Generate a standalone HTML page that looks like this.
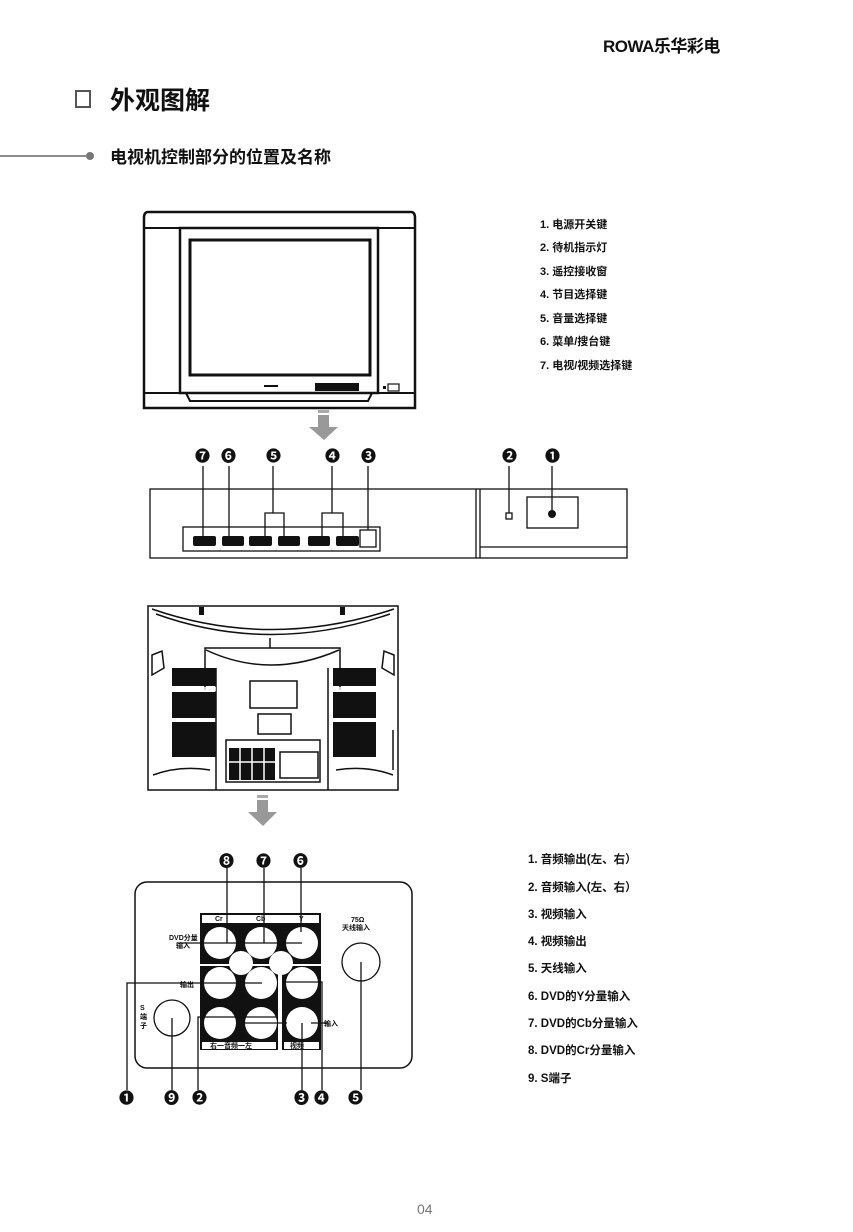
<!DOCTYPE html>
<html><head><meta charset="utf-8"><style>
html,body{margin:0;padding:0;background:#fff}
svg{display:block}
text{font-family:"Liberation Sans","Noto Sans CJK SC",sans-serif;font-weight:bold;fill:#111}
</style></head><body>
<svg width="853" height="1232" viewBox="0 0 853 1232" xmlns="http://www.w3.org/2000/svg">
<!-- header -->
<text x="603" y="52" font-size="17" style="letter-spacing:-0.5px">ROWA乐华彩电</text>
<rect x="76" y="91" width="14" height="16" fill="none" stroke="#555" stroke-width="2"/>
<text x="110" y="109" font-size="25">外观图解</text>
<line x1="0" y1="156" x2="86" y2="156" stroke="#666" stroke-width="1.5"/>
<circle cx="90" cy="156" r="4" fill="#777"/>
<text x="110" y="163" font-size="17">电视机控制部分的位置及名称</text>

<!-- front TV -->
<g fill="none" stroke="#111">
<path d="M148 212 H411 Q415 212 415 218 V408 H144 V218 Q144 212 148 212 Z" stroke-width="2.5"/>
<line x1="144" y1="228" x2="415" y2="228" stroke-width="2"/>
<line x1="144" y1="393" x2="415" y2="393" stroke-width="2"/>
<rect x="180" y="228" width="198" height="165" stroke-width="2.5"/>
<rect x="190" y="240" width="180" height="135" stroke-width="3"/>
<path d="M186 393 L190 401 H368 L372 393" stroke-width="2"/>
</g>
<rect x="315" y="383" width="44" height="8" fill="#111"/>
<rect x="264" y="385" width="14" height="2" fill="#111"/>
<rect x="388" y="384" width="11" height="7" fill="none" stroke="#111" stroke-width="1.2"/>
<rect x="383" y="386" width="3" height="3" fill="#111"/>

<!-- arrow 1 -->
<rect x="318" y="410" width="11" height="3" fill="#aaa"/>
<rect x="318" y="415" width="11" height="12" fill="#999"/>
<polygon points="309,427 338,427 324,440" fill="#999"/>

<!-- control panel -->
<g font-size="15">
<text x="195" y="461">❼</text><text x="221" y="461">❻</text><text x="266" y="461">❺</text>
<text x="325" y="461">❹</text><text x="361" y="461">❸</text><text x="502" y="461">❷</text><text x="545" y="461">❶</text>
</g>
<g fill="none" stroke="#111" stroke-width="1.3">
<rect x="150" y="489" width="477" height="69"/>
<line x1="476" y1="489" x2="476" y2="558"/><line x1="480" y1="489" x2="480" y2="558"/>
<line x1="480" y1="547" x2="627" y2="547"/>
<rect x="183" y="527" width="197" height="24"/>
<rect x="360" y="530" width="16" height="17"/>
<rect x="506" y="513" width="6" height="6"/>
<rect x="527" y="497" width="51" height="31"/>
<path d="M203 466 V536 M229 466 V536 M273 466 V513 M265 536 V513 H284 V536 M332 466 V513 M322 536 V513 H343 V536 M368 466 V530 M509 466 V513 M552 466 V515"/>
</g>
<g fill="#111">
<rect x="193" y="536" width="23" height="10" rx="2"/><rect x="222" y="536" width="22" height="10" rx="2"/>
<rect x="249" y="536" width="23" height="10" rx="2"/><rect x="278" y="536" width="22" height="10" rx="2"/>
<rect x="308" y="536" width="22" height="10" rx="2"/><rect x="336" y="536" width="23" height="10" rx="2"/>
<circle cx="552" cy="514" r="4"/>
</g>

<!-- rear TV -->
<g fill="none" stroke="#111" stroke-width="1.5">
<rect x="148" y="606" width="250" height="184"/>
<path d="M152 609 Q270 650 394 609"/>
<path d="M156 614 Q270 655 390 614"/>
<line x1="270" y1="638" x2="270" y2="648"/>
<path d="M205 690 V648 H340 V690"/>
<path d="M206 650 Q270 680 339 650"/>
<line x1="216" y1="668" x2="216" y2="790"/><line x1="328" y1="668" x2="328" y2="790"/>
<rect x="250" y="681" width="47" height="27"/>
<rect x="258" y="714" width="33" height="20"/>
<rect x="226" y="740" width="94" height="42"/>
<rect x="280" y="752" width="38" height="26"/>
<path d="M152 655 L162 651 L164 668 L152 675 Z M394 655 L384 651 L382 668 L394 675 Z"/>
<path d="M153 775 Q180 765 210 770 M393 775 Q366 765 336 770"/>
<line x1="393" y1="730" x2="393" y2="770"/>
</g>
<g fill="#111">
<rect x="199" y="607" width="5" height="8"/><rect x="340" y="607" width="5" height="8"/>
<rect x="172" y="668" width="44" height="18"/><rect x="172" y="692" width="44" height="26"/><rect x="172" y="722" width="44" height="35"/>
<rect x="333" y="668" width="43" height="18"/><rect x="333" y="692" width="43" height="26"/><rect x="333" y="722" width="43" height="35"/>
<rect x="229" y="748" width="46" height="32"/>
</g>
<g stroke="#fff" stroke-width="1.5">
<line x1="172" y1="688" x2="216" y2="688"/><line x1="172" y1="690" x2="216" y2="690"/>
<line x1="333" y1="688" x2="376" y2="688"/><line x1="333" y1="690" x2="376" y2="690"/>
<line x1="240" y1="748" x2="240" y2="780"/><line x1="252" y1="748" x2="252" y2="780"/><line x1="264" y1="748" x2="264" y2="780"/>
<line x1="229" y1="762" x2="275" y2="762"/>
</g>
<!-- arrow 2 -->
<rect x="257" y="795" width="11" height="3" fill="#aaa"/>
<rect x="257" y="800" width="11" height="12" fill="#999"/>
<polygon points="248,812 277,812 263,826" fill="#999"/>

<!-- connector panel -->
<g font-size="15">
<text x="219" y="866">❽</text><text x="256" y="866">❼</text><text x="293" y="866">❻</text>
<text x="119" y="1103">❶</text><text x="164" y="1103">❾</text><text x="192" y="1103">❷</text>
<text x="294" y="1103">❸</text><text x="314" y="1103">❹</text><text x="348" y="1103">❺</text>
</g>
<rect x="135" y="882" width="277" height="186" rx="12" fill="none" stroke="#111" stroke-width="1.5"/>
<rect x="200" y="913" width="121" height="51" fill="#111"/>
<rect x="200" y="966" width="78" height="84" fill="#111"/>
<rect x="282" y="966" width="39" height="84" fill="#111"/>
<rect x="202" y="915" width="117" height="8" fill="#fff"/>
<rect x="202" y="1042" width="74" height="7" fill="#fff"/>
<rect x="284" y="1042" width="35" height="7" fill="#fff"/>
<g fill="#fff">
<circle cx="220" cy="943" r="16"/><circle cx="261" cy="943" r="16"/><circle cx="302" cy="943" r="16"/>
<circle cx="241" cy="963" r="12"/><circle cx="281" cy="963" r="12"/>
<circle cx="220" cy="983" r="16"/><circle cx="261" cy="983" r="16"/><circle cx="302" cy="983" r="16"/>
<circle cx="220" cy="1023" r="16"/><circle cx="261" cy="1023" r="16"/><circle cx="302" cy="1023" r="16"/>
</g>
<g font-size="7" fill="#111">
<text x="215" y="921">Cr</text><text x="256" y="921">Cb</text><text x="299" y="921">Y</text>
<text x="210" y="1048">右一音频一左</text><text x="290" y="1048">视频</text>
</g>
<g fill="none" stroke="#111" stroke-width="1.3">
<circle cx="361" cy="962" r="19"/>
<circle cx="172" cy="1018" r="18"/>
<path d="M127 1090 V983 H262 M178 943 H302 M198 1090 V1017 H276 M236 1023 H287 M302 1090 V1023 M322 1090 V982 H286 M311 1023 H328 M361 1090 V962 M172 1090 V1018 M227 868 V943 M264 868 V943 M301 868 V932"/>
</g>
<g font-size="7">
<text x="351" y="922">75Ω</text><text x="342" y="930">天线输入</text>
<text x="169" y="940">DVD分量</text><text x="176" y="948">输入</text>
<text x="180" y="987">输出</text><text x="324" y="1026">输入</text>
<text x="140" y="1010">S</text><text x="140" y="1019">端</text><text x="140" y="1028">子</text>
</g>

<!-- list 1 -->
<g font-size="11">
<text x="540" y="228">1. 电源开关键</text>
<text x="540" y="251">2. 待机指示灯</text>
<text x="540" y="275">3. 遥控接收窗</text>
<text x="540" y="298">4. 节目选择键</text>
<text x="540" y="322">5. 音量选择键</text>
<text x="540" y="345">6. 菜单/搜台键</text>
<text x="540" y="369">7. 电视/视频选择键</text>
</g>
<!-- list 2 -->
<g font-size="11.5">
<text x="528" y="863">1. 音频输出(左、右）</text>
<text x="528" y="891">2. 音频输入(左、右）</text>
<text x="528" y="918">3. 视频输入</text>
<text x="528" y="945">4. 视频输出</text>
<text x="528" y="972">5. 天线输入</text>
<text x="528" y="1000">6. DVD的Y分量输入</text>
<text x="528" y="1027">7. DVD的Cb分量输入</text>
<text x="528" y="1054">8. DVD的Cr分量输入</text>
<text x="528" y="1082">9.  S端子</text>
</g>
<text x="417" y="1214" font-size="14" style="font-weight:normal;fill:#777">04</text>
</svg>
</body></html>
